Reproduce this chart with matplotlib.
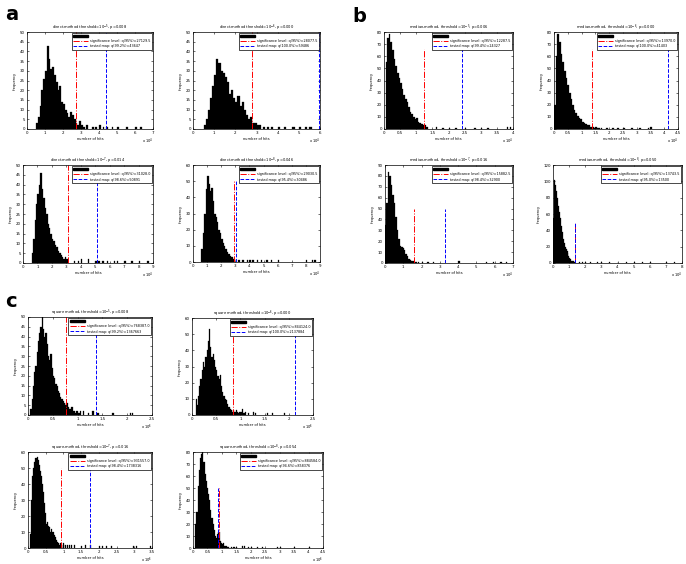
import numpy as np
import matplotlib.pyplot as plt
from matplotlib.patches import Patch
from matplotlib.lines import Line2D
from matplotlib.ticker import FuncFormatter

# panel order: a1 a2 a3 a4 b1 b2 b3 b4 c1 c2 c3 c4
titles = [
    "direct-method threshold=10$^{-5}$, p=0.008",
    "direct-method threshold=10$^{-6}$, p=0.000",
    "direct-method threshold=10$^{-7}$, p=0.014",
    "direct-method threshold=10$^{-8}$, p=0.046",
    "median-method, threshold=10$^{-5}$, p=0.006",
    "median-method, threshold=10$^{-6}$, p=0.000",
    "median-method, threshold=10$^{-7}$, p=0.016",
    "median-method, threshold=10$^{-8}$, p=0.050",
    "square method, threshold=10$^{-5}$, p=0.008",
    "square method, threshold=10$^{-6}$, p=0.000",
    "square-method, threshold=10$^{-7}$, p=0.016",
    "square-method, threshold=10$^{-8}$, p=0.054",
]

sig_q = [27129.5, 28077.5, 31028.0, 29030.5, 12287.5, 13970.0, 15882.5, 13743.5,
         768387.0, 844124.0, 931557.0, 884584.0]
tested_q = [43647, 59486, 50891, 30486, 24327, 41403, 32900, 13500,
            1367663, 2137884, 1738316, 858376]
tested_pct = ["99.2", "100.0", "98.6", "95.4", "99.4", "100.0", "98.4", "95.0",
              "99.2", "100.0", "98.4", "94.6"]
line_top = [50, 50, 50, 50, 66, 66, 50, 50, 50, 50, 50, 50]

bin_start = [5000, 5000, 6000, 6000, 500, 0, 0, 0, 50000, 75000, 60000, 80000]
bin_width = [1000, 1000, 1000, 1000, 500, 600, 800, 600, 25000, 25000, 30000, 40000]

counts = [
    [3, 6, 12, 20, 26, 30, 43, 36, 31, 32, 28, 24, 20, 22, 14, 13, 10, 8, 6, 9,
     7, 5, 3, 2, 4, 2],
    [2, 5, 10, 16, 22, 28, 36, 34, 30, 29, 27, 24, 18, 20, 16, 14, 17, 12, 14, 10,
     7, 5, 6, 3, 3, 2],
    [5, 12, 22, 30, 35, 40, 46, 38, 33, 28, 25, 20, 18, 15, 12, 11, 9, 8, 6, 5,
     4, 3, 2, 3, 2],
    [8, 18, 30, 45, 53, 48, 44, 46, 38, 30, 28, 25, 20, 18, 14, 12, 10, 8, 6, 5,
     4, 3, 2, 2],
    [55, 75, 78, 72, 65, 58, 52, 46, 42, 38, 33, 28, 25, 22, 18, 14, 12, 10, 8, 9,
     6, 5, 4, 3, 3, 2],
    [20, 60, 78, 72, 62, 55, 48, 42, 36, 30, 25, 20, 16, 13, 11, 9, 8, 6, 5, 4,
     3, 3, 2, 2, 1, 2, 1, 1],
    [35, 55, 84, 80, 72, 62, 55, 42, 30, 22, 16, 15, 14, 12, 8, 6, 4, 3, 2, 2,
     1, 1],
    [55, 102, 95, 88, 80, 70, 62, 55, 45, 38, 30, 25, 20, 17, 15, 12, 8, 6, 5, 3,
     2, 2, 1],
    [3, 8, 15, 22, 25, 32, 38, 42, 45, 50, 44, 40, 42, 36, 30, 28, 31, 24, 20, 19,
     16, 15, 12, 11, 9, 8, 7, 6, 5, 6, 4, 3, 3, 4, 2, 2, 1, 2, 1, 1],
    [10, 6, 12, 18, 22, 28, 33, 30, 36, 40, 46, 53, 42, 36, 38, 34, 30, 28, 24, 22,
     25, 18, 14, 12, 10, 9, 7, 5, 4, 3, 2, 3, 2, 3, 2, 1, 2, 2, 4, 1, 1],
    [9, 30, 45, 50, 54, 56, 57, 55, 52, 48, 45, 40, 35, 28, 22, 15, 16, 14, 13, 10,
     12, 10, 8, 7, 5, 4, 3, 2, 3, 2, 0, 3],
    [20, 30, 52, 65, 75, 78, 80, 72, 62, 56, 50, 45, 40, 32, 25, 20, 15, 10, 8, 12,
     13, 6, 4, 3, 4, 2, 2, 1],
]

# sparse outliers in the right tail (bin start, count)
tail_x = [
    [31000, 33000, 36000, 38000, 40000, 42000, 44000, 47000, 50000, 55000, 60000, 63000],
    [31000, 33000, 35000, 37000, 40000, 43000, 47000, 50000, 53000, 55000],
    [35000, 38000, 40000, 45000, 50000, 52000, 55000, 58000, 63000, 65000, 70000, 75000, 80000, 86000],
    [32000, 35000, 38000, 40000, 42000, 45000, 48000, 52000, 55000, 60000, 80000, 84000, 86000],
    [16000, 18000, 20000, 22000, 25000, 28000, 30000, 32000, 38000, 39000],
    [17000, 19000, 21000, 23000, 25000, 28000, 31000, 34000, 35000],
    [18000, 20000, 23000, 26000, 40000, 55000, 59000, 63000, 66000],
    [16000, 18000, 20000, 23000, 27000, 30000, 35000, 40000, 45000, 50000, 55000, 60000, 70000, 75000],
    [1050000, 1100000, 1200000, 1300000, 1400000, 1700000, 2050000, 2100000],
    [1100000, 1150000, 1250000, 1300000, 1550000, 1650000, 1900000],
    [1000000, 1050000, 1100000, 1150000, 1200000, 1300000, 1500000, 1600000, 1750000,
     2000000, 2100000, 2200000, 2350000, 2950000, 3050000, 3450000],
    [1200000, 1300000, 1400000, 1500000, 1700000, 1750000, 1900000, 2000000, 2200000,
     2400000, 2900000, 3000000, 3500000, 4000000],
]
tail_n = [
    [1, 2, 1, 1, 2, 1, 1, 1, 1, 1, 1, 1],
    [2, 1, 1, 1, 1, 1, 1, 1, 1, 1],
    [1, 1, 2, 2, 1, 1, 1, 1, 1, 1, 1, 1, 1, 1],
    [1, 1, 1, 1, 1, 1, 1, 1, 1, 1, 1, 1, 1],
    [2, 1, 1, 1, 1, 1, 1, 1, 2, 2],
    [1, 1, 1, 1, 1, 1, 1, 1, 2],
    [1, 1, 1, 1, 2, 1, 1, 1, 1],
    [1, 1, 1, 1, 1, 1, 1, 1, 1, 1, 1, 1, 1, 1],
    [2, 2, 1, 2, 1, 1, 1, 1],
    [2, 1, 2, 1, 1, 1, 1],
    [2, 2, 2, 2, 2, 2, 1, 2, 2, 1, 1, 1, 1, 1, 1, 1],
    [1, 1, 1, 1, 2, 2, 1, 1, 1, 1, 1, 1, 1, 1],
]

x_max = [7e4, 6e4, 9e4, 9e4, 4e4, 4.5e4, 7e4, 8e4, 2.5e6, 2.5e6, 3.5e6, 4.5e6]
x_step = [1e4, 1e4, 1e4, 1e4, 0.5e4, 0.5e4, 1e4, 1e4, 0.5e6, 0.5e6, 0.5e6, 0.5e6]
x_exp = [4, 4, 4, 4, 4, 4, 4, 4, 6, 6, 6, 6]
y_max = [50, 50, 50, 60, 80, 80, 90, 120, 50, 60, 60, 80]
y_step = [5, 5, 5, 10, 10, 10, 10, 20, 5, 10, 10, 10]

# axes boxes in pixels: left, top, right, bottom
boxes = [
    (27, 32, 153, 129), (193, 32, 320, 129), (23, 165, 153, 263), (193, 165, 320, 262),
    (384, 32, 513, 129), (554, 32, 678, 129), (385, 165, 513, 263), (553, 165, 682, 263),
    (28, 317, 152, 415), (192, 318, 313, 415), (28, 452, 152, 548), (193, 452, 323, 548),
]

W, H = 686, 564
fig = plt.figure(figsize=(W / 100, H / 100), dpi=100)
plt.rcParams['font.family'] = 'DejaVu Sans'
fs = 2.6

for i in range(12):
    l, t, r, b = boxes[i]
    ax = fig.add_axes([l / W, 1 - b / H, (r - l) / W, (b - t) / H])
    xs = bin_start[i] + bin_width[i] * np.arange(len(counts[i]))
    ax.bar(xs, counts[i], width=bin_width[i], align='edge', color='k',
           edgecolor='k', linewidth=0.2)
    ax.bar(tail_x[i], tail_n[i], width=bin_width[i], align='edge', color='k',
           edgecolor='k', linewidth=0.2)
    ax.plot([sig_q[i], sig_q[i]], [0, line_top[i]], color='red', ls='-.', lw=0.7)
    ax.plot([tested_q[i], tested_q[i]], [0, line_top[i]], color='blue', ls='--', lw=0.7)

    ax.set_xlim(0, x_max[i])
    ax.set_ylim(0, y_max[i])
    ax.set_xticks(np.arange(0, x_max[i] + 1, x_step[i]))
    ax.set_yticks(np.arange(0, y_max[i] + 1, y_step[i]))
    sc = 10.0 ** x_exp[i]
    ax.xaxis.set_major_formatter(FuncFormatter(lambda v, p, sc=sc: f"{v / sc:g}"))
    ax.tick_params(direction='in', length=1.5, width=0.4, labelsize=fs + 0.3, pad=1.5,
                   top=True, right=True)
    for s in ax.spines.values():
        s.set_linewidth(0.5)
    ax.set_title(titles[i], fontsize=fs, pad=2)
    ax.set_xlabel("number of hits", fontsize=fs, labelpad=1.5)
    ax.set_ylabel("frequency", fontsize=fs, labelpad=2)
    # MATLAB-style exponent note under the right end of the x axis
    ax.annotate("x 10$^{%d}$" % x_exp[i], xy=(1.0, 0), xycoords='axes fraction',
                xytext=(0, -7.5), textcoords='offset pixels',
                ha='right', va='top', fontsize=fs)

    handles = [Patch(facecolor='k', edgecolor='k'),
               Line2D([], [], color='red', ls='-.', lw=0.7),
               Line2D([], [], color='blue', ls='--', lw=0.7)]
    labels = ["",
              "significance level: q(95%%)=%.1f" % sig_q[i],
              "tested map: q(%s%%)=%d" % (tested_pct[i], tested_q[i])]
    leg = ax.legend(handles, labels, loc='upper right', fontsize=2.4, fancybox=False,
                    edgecolor='k', framealpha=1, handlelength=4.5, borderpad=0.35,
                    labelspacing=0.35, borderaxespad=0.3)
    leg.get_frame().set_linewidth(0.5)

fig.text(5 / W, 1 - 20 / H, "a", fontsize=14, fontweight='bold', va='baseline')
fig.text(352 / W, 1 - 22 / H, "b", fontsize=14, fontweight='bold', va='baseline')
fig.text(5 / W, 1 - 307 / H, "c", fontsize=14, fontweight='bold', va='baseline')

fig.savefig("out.png", dpi=100)
